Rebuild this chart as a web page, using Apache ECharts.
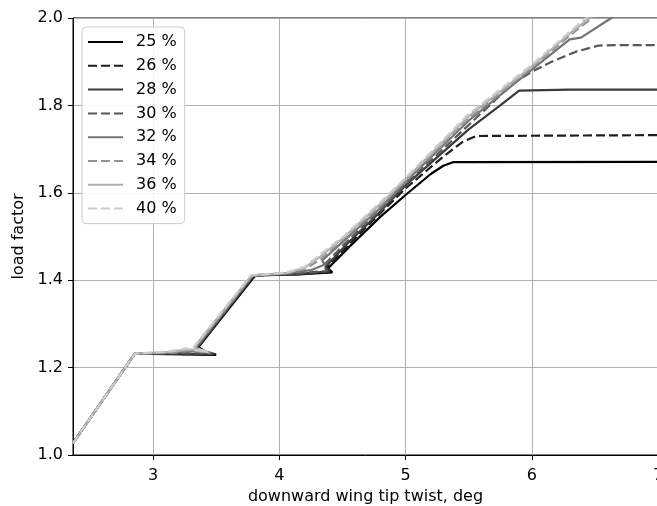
<!DOCTYPE html>
<html>
<head>
<meta charset="utf-8">
<script src="https://cdn.jsdelivr.net/npm/echarts@6/dist/echarts.min.js"></script>
<style>
html,body{margin:0;padding:0;background:#fff;}
#chart{width:657px;height:506px;}
</style>
</head>
<body>
<div id="chart"></div>
<script>
// ---- data ----
const seriesNames = ['25 %', '26 %', '28 %', '30 %', '32 %', '34 %', '36 %', '40 %'];
const seriesColors = ['#000000', '#1d1d1d', '#3a3a3a', '#575757', '#747474', '#929292', '#afafaf', '#cccccc'];
const seriesDashed = [false, true, false, true, false, true, false, true];
const xTicks = [3, 4, 5, 6, 7];
const yTicks = [1.0, 1.2, 1.4, 1.6, 1.8, 2.0];

const s25 = [[2.366,1.027],[2.855,1.232],[3.25,1.230],[3.50,1.229],[3.42,1.236],[3.36,1.247],[3.81,1.411],[4.15,1.413],[4.42,1.418],[4.385,1.427],[4.56,1.478],[4.80,1.545],[5.00,1.595],[5.20,1.643],[5.30,1.662],[5.375,1.670],[7.0,1.671]];
const s26 = [[2.366,1.027],[2.855,1.232],[3.25,1.231],[3.49,1.230],[3.41,1.237],[3.355,1.246],[3.805,1.411],[4.15,1.414],[4.41,1.419],[4.375,1.428],[4.55,1.482],[4.80,1.553],[5.00,1.610],[5.30,1.683],[5.45,1.716],[5.56,1.730],[7.0,1.732]];
const s28 = [[2.366,1.027],[2.855,1.232],[3.22,1.232],[3.48,1.231],[3.40,1.238],[3.35,1.246],[3.80,1.411],[4.15,1.414],[4.40,1.420],[4.365,1.430],[4.54,1.484],[4.80,1.557],[5.00,1.617],[5.50,1.745],[5.75,1.800],[5.90,1.834],[6.30,1.836],[7.0,1.836]];
const s30 = [[2.366,1.027],[2.855,1.232],[3.20,1.233],[3.47,1.232],[3.39,1.239],[3.345,1.246],[3.795,1.411],[4.10,1.415],[4.38,1.421],[4.35,1.433],[4.52,1.484],[4.80,1.560],[5.00,1.620],[5.50,1.755],[5.85,1.850],[6.00,1.877],[6.15,1.899],[6.35,1.923],[6.53,1.937],[6.70,1.938],[7.0,1.938]];
const s32 = [[2.366,1.027],[2.855,1.232],[3.18,1.234],[3.32,1.238],[3.46,1.233],[3.37,1.241],[3.34,1.246],[3.79,1.411],[4.05,1.415],[4.25,1.423],[4.36,1.436],[4.34,1.445],[4.50,1.487],[4.80,1.565],[5.00,1.625],[5.50,1.765],[6.00,1.882],[6.30,1.951],[6.39,1.955],[6.63,2.000],[6.80,2.035]];
const s34 = [[2.366,1.027],[2.855,1.232],[3.16,1.235],[3.30,1.240],[3.45,1.234],[3.36,1.242],[3.33,1.246],[3.785,1.411],[4.05,1.416],[4.20,1.425],[4.33,1.448],[4.50,1.492],[4.80,1.570],[5.00,1.628],[5.50,1.770],[6.00,1.886],[6.30,1.960],[6.48,2.000],[6.70,2.050]];
const s36 = [[2.366,1.027],[2.855,1.232],[3.14,1.236],[3.28,1.242],[3.44,1.235],[3.35,1.243],[3.325,1.246],[3.78,1.411],[4.05,1.416],[4.20,1.428],[4.33,1.455],[4.50,1.495],[4.80,1.574],[5.00,1.631],[5.50,1.775],[6.00,1.889],[6.30,1.964],[6.46,2.000],[6.70,2.055]];
const s40 = [[2.366,1.027],[2.855,1.232],[3.12,1.237],[3.26,1.244],[3.43,1.236],[3.34,1.244],[3.32,1.246],[3.775,1.411],[4.05,1.417],[4.20,1.430],[4.33,1.460],[4.50,1.498],[4.80,1.578],[5.00,1.634],[5.50,1.780],[6.00,1.893],[6.30,1.968],[6.43,2.000],[6.70,2.060]];
const seriesData = [s25, s26, s28, s30, s32, s34, s36, s40];

// ---- chart ----
const FONT = 'DejaVu Sans';
const chart = echarts.init(document.getElementById('chart'), null, {renderer: 'canvas'});
const series = seriesNames.map((name, i) => ({
  name: name,
  type: 'line',
  data: seriesData[i],
  symbol: 'none',
  showSymbol: false,
  clip: true,
  animation: false,
  lineStyle: {color: seriesColors[i], width: 2.2, type: seriesDashed[i] ? [9, 4] : 'solid'},
  itemStyle: {color: seriesColors[i]},
  emphasis: {disabled: true}
}));

chart.setOption({
  animation: false,
  backgroundColor: '#ffffff',
  textStyle: {fontFamily: FONT},
  grid: {
    left: 73, width: 585, top: 18, bottom: 51,
    outerBoundsMode: 'none',
    show: true, borderColor: '#000', borderWidth: 1, backgroundColor: 'transparent',
    containLabel: false
  },
  legend: {
    orient: 'vertical',
    left: 82, top: 27,
    padding: [7, 8, 7, 5],
    itemWidth: 35, itemHeight: 14, itemGap: 7.8,
    backgroundColor: 'rgba(255,255,255,0.85)',
    borderColor: '#cccccc', borderWidth: 1, borderRadius: 4,
    itemStyle: {opacity: 0},
    textStyle: {fontFamily: FONT, fontSize: 16, color: '#000', lineHeight: 16, padding: [0, 0, 0, 8]},
    data: seriesNames
  },
  xAxis: {
    type: 'value', min: 2.366, max: 7,
    axisLine: {show: true, onZero: false, lineStyle: {color: '#000', width: 1}},
    axisTick: {show: true, customValues: xTicks, length: 5, lineStyle: {color: '#000', width: 1}},
    axisLabel: {customValues: xTicks, color: '#000', fontSize: 16, fontFamily: FONT, margin: 13,
      formatter: v => String(v)},
    splitLine: {show: true, lineStyle: {color: '#b0b0b0', width: 1}},
    name: 'downward wing tip twist, deg', nameLocation: 'middle', nameGap: 34,
    nameTextStyle: {color: '#000', fontSize: 16, fontFamily: FONT}
  },
  yAxis: {
    type: 'value', min: 1.0, max: 2.0, interval: 0.2,
    axisLine: {show: true, onZero: false, lineStyle: {color: '#000', width: 1}},
    axisTick: {show: true, length: 5, lineStyle: {color: '#000', width: 1}},
    axisLabel: {color: '#000', fontSize: 16, fontFamily: FONT, margin: 10,
      formatter: v => yTicks.some(t => Math.abs(t - v) < 1e-9) ? v.toFixed(1) : ''},
    splitLine: {show: true, lineStyle: {color: '#b0b0b0', width: 1}},
    name: 'load factor', nameLocation: 'middle', nameGap: 45, nameRotate: 90,
    nameTextStyle: {color: '#000', fontSize: 16, fontFamily: FONT}
  },
  series: series
});
</script>
</body>
</html>
